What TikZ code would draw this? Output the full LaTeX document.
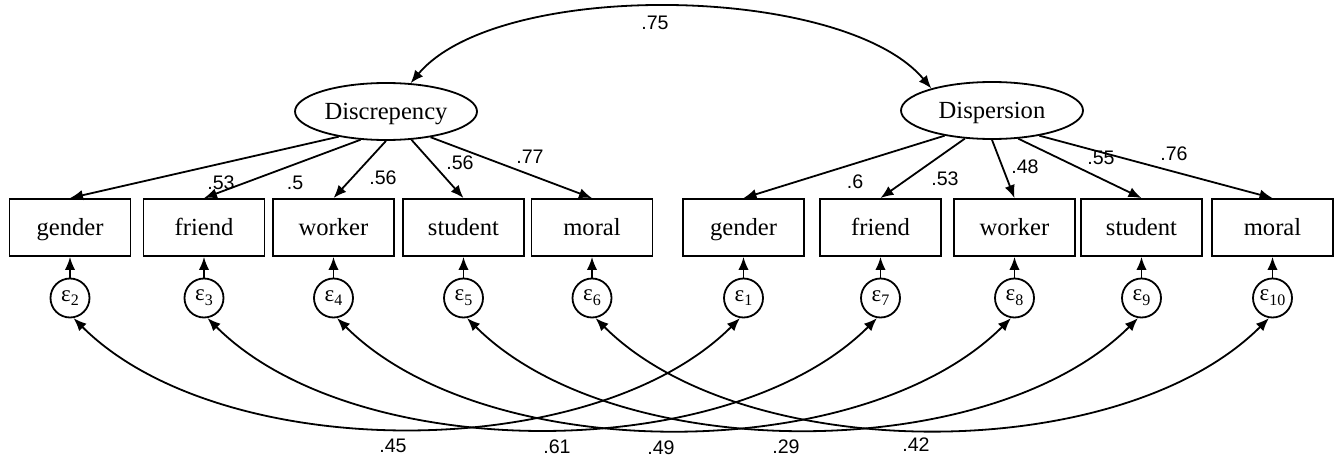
\documentclass[tikz,border=0pt]{standalone}
\usepackage{fontspec}
\setmainfont{Liberation Serif}
\newfontfamily\numfont{Liberation Sans}
\usetikzlibrary{arrows.meta,shapes.geometric}

\newcommand{\errlab}[1]{ε\raisebox{-0.45ex}{\fontsize{8}{8}\selectfont#1}}

\begin{document}
\begin{tikzpicture}[x=0.5pt, y=0.5pt, line width=0.9pt, >={Latex[length=6.5pt,width=5.2pt]},
	latent/.style={draw, ellipse, minimum width=91pt, minimum height=28.5pt, inner sep=0pt, text height=9.8pt, text depth=1.6pt, font=\fontsize{12.3}{14}\selectfont},
	indic/.style={draw, minimum width=60.5pt, minimum height=28.5pt, inner sep=0pt, text height=9.8pt, text depth=1.6pt, font=\fontsize{12.3}{14}\selectfont},
	resid/.style={draw, circle, minimum size=19.5pt, inner sep=0pt, font=\fontsize{11.5}{12}\selectfont},
	coef/.style={inner sep=0pt, font=\numfont\fontsize{9.8}{11}\selectfont},
	cov/.style={<->, out=-45, in=-135, looseness=0.8}]
	\useasboundingbox (0,0) rectangle (1334,-460);
	% latent factors
	\node[latent] (discr) at (386,-111.5) {Discrepency};
	\node[latent] (dispr) at (992,-110.5) {Dispersion};
	% indicators
	\node[indic] (gen1) at (70,-227.5) {gender};
	\node[indic] (fri1) at (204,-227.5) {friend};
	\node[indic] (wor1) at (333.5,-227.5) {worker};
	\node[indic] (stu1) at (463.5,-227.5) {student};
	\node[indic] (mor1) at (592,-227.5) {moral};
	\node[indic] (gen2) at (743.5,-227.5) {gender};
	\node[indic] (fri2) at (880.5,-227.5) {friend};
	\node[indic] (wor2) at (1014.5,-227.5) {worker};
	\node[indic] (stu2) at (1141.5,-227.5) {student};
	\node[indic] (mor2) at (1272.5,-227.5) {moral};
	% error terms
	\node[resid] (e2) at (70,-298) {\errlab{2}};
	\node[resid] (e3) at (204,-298) {\errlab{3}};
	\node[resid] (e4) at (333.5,-298) {\errlab{4}};
	\node[resid] (e5) at (463.5,-298) {\errlab{5}};
	\node[resid] (e6) at (592,-298) {\errlab{6}};
	\node[resid] (e1) at (743.5,-298) {\errlab{1}};
	\node[resid] (e7) at (880.5,-298) {\errlab{7}};
	\node[resid] (e8) at (1014.5,-298) {\errlab{8}};
	\node[resid] (e9) at (1141.5,-298) {\errlab{9}};
	\node[resid] (e10) at (1272.5,-298) {\errlab{10}};
	% factor covariance
	\draw[<->] (discr.49) to[out=50, in=130, looseness=0.67] (dispr.160);
	\node[coef] (c75) at (655,-23) {.75};
	% loadings
	\draw[->] (discr.208) -- (gen1.north);
	\draw[->] (discr.228) -- (fri1.north);
	\draw[->] (discr.270) -- (wor1.north);
	\draw[->] (discr.312) -- (stu1.north);
	\draw[->] (discr.330) -- (mor1.north);
	\draw[->] (dispr.208) -- (gen2.north);
	\draw[->] (dispr.226) -- (fri2.north);
	\draw[->] (dispr.270) -- (wor2.north);
	\draw[->] (dispr.313) -- (stu2.north);
	\draw[->] (dispr.332) -- (mor2.north);
	\node[coef] (l53a) at (221,-183) {.53};
	\node[coef] (l5) at (295,-183) {.5};
	\node[coef] (l56a) at (383,-178) {.56};
	\node[coef] (l56b) at (460,-163) {.56};
	\node[coef] (l77) at (530,-157) {.77};
	\node[coef] (l6) at (855,-182) {.6};
	\node[coef] (l53b) at (945,-179) {.53};
	\node[coef] (l48) at (1025,-167) {.48};
	\node[coef] (l55) at (1101,-158) {.55};
	\node[coef] (l76) at (1174,-154) {.76};
	% error paths
	\foreach \e/\v in {e2/gen1, e3/fri1, e4/wor1, e5/stu1, e6/mor1, e1/gen2, e7/fri2, e8/wor2, e9/stu2, e10/mor2}
		\draw[->] (\e) -- (\v);
	% error covariances
	\draw[cov] (e2.-80) to (e1.-100);
	\draw[cov] (e3.-80) to (e7.-100);
	\draw[cov] (e4.-80) to (e8.-100);
	\draw[cov] (e5.-80) to (e9.-100);
	\draw[cov] (e6.-80) to (e10.-100);
	\node[coef] (c45) at (393,-446) {.45};
	\node[coef] (c61) at (557,-447) {.61};
	\node[coef] (c49) at (661,-448) {.49};
	\node[coef] (c29) at (786,-447) {.29};
	\node[coef] (c42) at (916,-445) {.42};
\end{tikzpicture}
\end{document}
